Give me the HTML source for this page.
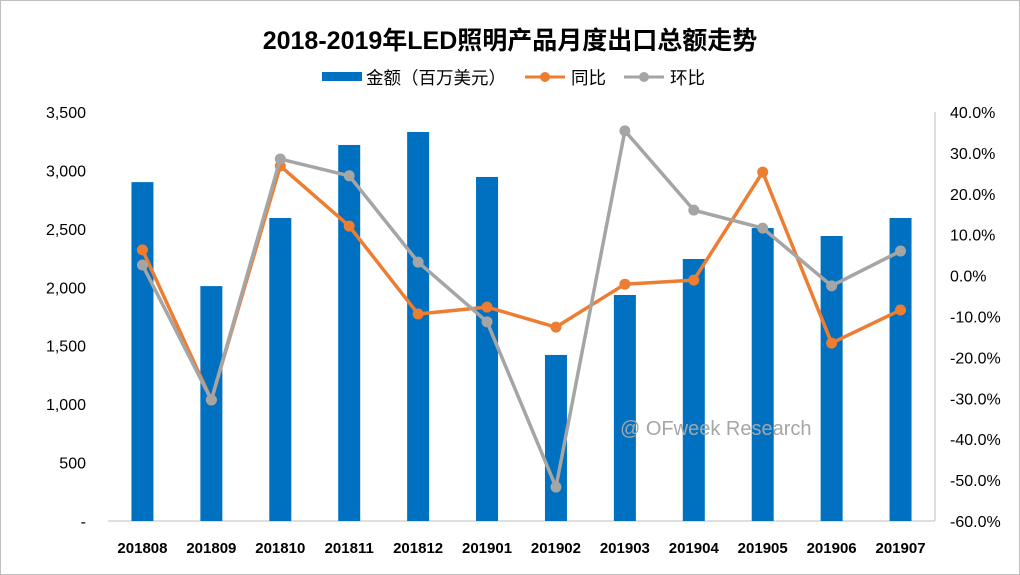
<!DOCTYPE html>
<html><head><meta charset="utf-8"><style>
html,body{margin:0;padding:0;background:#fff}
svg{display:block;font-family:"Liberation Sans","Noto Sans CJK SC",sans-serif}
</style></head><body>
<svg id="chart" width="1020" height="575">
<rect x="0.5" y="0.5" width="1019" height="574" fill="#fff" stroke="#bfbfbf"/>
<text x="510" y="49" text-anchor="middle" font-size="25" font-weight="bold" fill="#000">2018-2019年LED照明产品月度出口总额走势</text>
<g>
<g><rect x="322" y="72" width="40" height="9" fill="#0070c0"/><text x="366" y="84" font-size="17.5">金额（百万美元）</text></g>
<g><line x1="525" y1="77" x2="565" y2="77" stroke="#ed7d31" stroke-width="3"/><circle cx="545" cy="77" r="5" fill="#ed7d31"/><text x="571" y="84" font-size="17.5">同比</text></g>
<g><line x1="624" y1="77" x2="664" y2="77" stroke="#a5a5a5" stroke-width="3"/><circle cx="644" cy="77" r="5" fill="#a5a5a5"/><text x="670" y="84" font-size="17.5">环比</text></g>
</g>
<g id="axes"></g><g id="bars"></g>
<text x="620" y="435" font-size="20" fill="#a6a6a6">@ OFweek Research</text>
<g id="lines"></g>
</svg>
<script>
const categories=["201808","201809","201810","201811","201812","201901","201902","201903","201904","201905","201906","201907"];
const amounts=[2900,2010,2593,3218,3329,2944,1421,1934,2242,2507,2439,2593];
const yoy=[6.3,-30.4,26.8,12.1,-9.4,-7.7,-12.6,-2.1,-1.1,25.3,-16.5,-8.4];
const mom=[2.6,-30.4,28.5,24.4,3.3,-11.3,-51.7,35.4,16.0,11.6,-2.5,6.0];
const leftTicks=[0,500,1000,1500,2000,2500,3000,3500];
const leftLabels=["-","500","1,000","1,500","2,000","2,500","3,000","3,500"];
const rightTicks=[40,30,20,10,0,-10,-20,-30,-40,-50,-60];
const NS="http://www.w3.org/2000/svg";
const X0=108,X1=935,Y0=521,Y1=112;
const step=(X1-X0)/categories.length;
const xc=i=>X0+step*(i+0.5);
const yL=v=>Y0-(v/3500)*(Y0-Y1);
const yR=v=>Y0-((v+60)/100)*(Y0-Y1);
function mk(t,a,p){const e=document.createElementNS(NS,t);for(const k in a)e.setAttribute(k,a[k]);p.appendChild(e);return e;}
const ax=document.getElementById('axes');
const bl=mk('line',{x1:X0,y1:Y0,x2:X1,y2:Y0,stroke:'#bfbfbf'},ax);


const rl=mk('line',{x1:X1,y1:Y1,x2:X1,y2:Y0,stroke:'#bfbfbf'},ax);


leftTicks.forEach((v,i)=>{const t=mk('text',{x:86,y:yL(v)+6,'text-anchor':'end','font-size':16},ax);t.textContent=leftLabels[i];

});
rightTicks.forEach(v=>{const t=mk('text',{x:950,y:yR(v)+6,'font-size':16},ax);t.textContent=v.toFixed(1)+'%';

});
categories.forEach((c,i)=>{const t=mk('text',{x:xc(i),y:553,'text-anchor':'middle','font-size':15,'font-weight':'bold'},ax);t.textContent=c;

});
const bg=document.getElementById('bars');
amounts.forEach((v,i)=>{const r=mk('rect',{x:xc(i)-11,y:yL(v),width:22,height:Y0-yL(v),fill:'#0070c0'},bg);

});
const lg=document.getElementById('lines');
function series(arr,col,name){
const p=mk('polyline',{points:arr.map((v,i)=>xc(i)+','+yR(v)).join(' '),fill:'none',stroke:col,'stroke-width':3.5,'stroke-linejoin':'round'},lg);


arr.forEach((v,i)=>{const c=mk('circle',{cx:xc(i),cy:yR(v),r:5.5,fill:col},lg);

});}
series(yoy,'#ed7d31','yoy');
series(mom,'#a5a5a5','mom');
</script>
</body></html>
